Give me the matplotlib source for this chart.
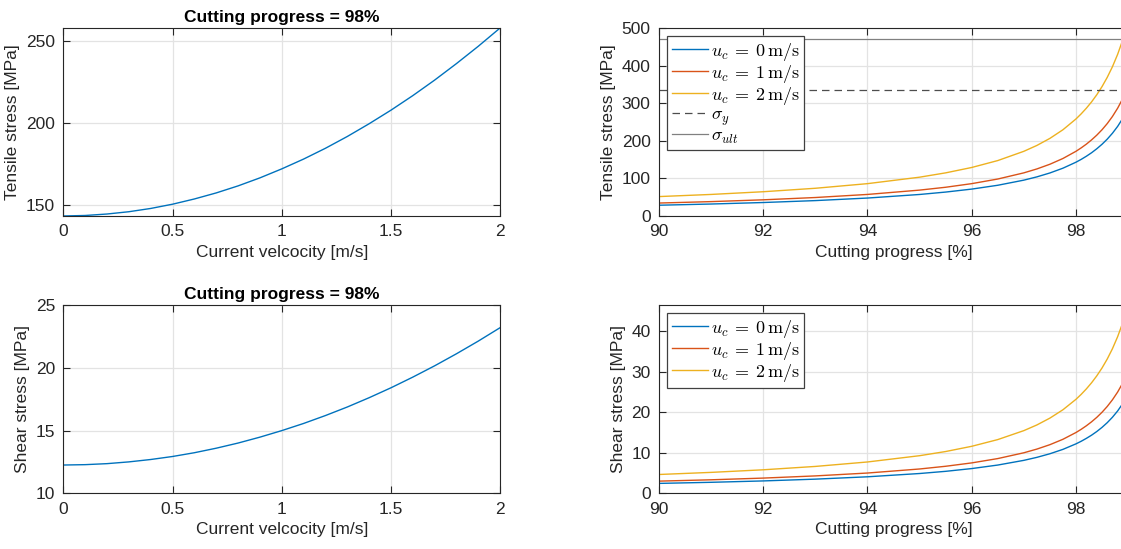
import matplotlib
matplotlib.use('Agg')
import matplotlib.pyplot as plt

# ---- data ----------------------------------------------------------------
# left column: stress vs current velocity at cutting progress = 98 %
velocity = [0.0, 0.1, 0.2, 0.3, 0.4, 0.5, 0.6, 0.7, 0.8, 0.9, 1.0,
            1.1, 1.2, 1.3, 1.4, 1.5, 1.6, 1.7, 1.8, 1.9, 2.0]
tensile_vs_u = [143.0, 143.3, 144.2, 145.6, 147.6, 150.2, 153.4, 157.1, 161.4, 166.3, 171.8,
                177.8, 184.4, 191.6, 199.4, 207.7, 216.6, 226.1, 236.2, 246.8, 258.0]
shear_vs_u = [12.25, 12.28, 12.36, 12.50, 12.69, 12.93, 13.23, 13.59, 14.00, 14.47, 14.99,
              15.56, 16.19, 16.87, 17.61, 18.40, 19.25, 20.15, 21.11, 22.12, 23.19]

# right column: stress vs cutting progress for three current velocities
progress = [90, 91, 92, 93, 94, 95, 95.5, 96, 96.5, 97, 97.25, 97.5, 97.75,
            98, 98.1, 98.2, 98.3, 98.4, 98.5, 98.6, 98.7, 98.8, 98.9, 99]
tensile_u0 = [28.6, 31.8, 35.8, 40.9, 47.7, 57.2, 63.6, 71.5, 81.7, 95.3, 104.0, 114.4, 127.1,
              143.0, 150.5, 158.9, 168.2, 178.8, 190.7, 204.3, 220.0, 238.3, 260.0, 286.0]
tensile_u1 = [34.4, 38.2, 43.0, 49.1, 57.3, 68.8, 76.4, 86.0, 98.3, 114.7, 125.1, 137.6, 152.9,
              172.0, 181.1, 191.1, 202.4, 215.0, 229.3, 245.7, 264.6, 286.7, 312.7, 344.0]
tensile_u2 = [51.6, 57.3, 64.5, 73.7, 86.0, 103.2, 114.7, 129.0, 147.4, 172.0, 187.6, 206.4, 229.3,
              258.0, 271.6, 286.7, 303.5, 322.5, 344.0, 368.6, 396.9, 430.0, 469.1, 516.0]
shear_u0 = [2.44, 2.71, 3.05, 3.49, 4.07, 4.88, 5.42, 6.10, 6.97, 8.13, 8.87, 9.76, 10.84,
            12.20, 12.84, 13.56, 14.35, 15.25, 16.27, 17.43, 18.77, 20.33, 22.18, 24.40]
shear_u1 = [3.00, 3.33, 3.75, 4.29, 5.00, 6.00, 6.67, 7.50, 8.57, 10.00, 10.91, 12.00, 13.33,
            15.00, 15.79, 16.67, 17.65, 18.75, 20.00, 21.43, 23.08, 25.00, 27.27, 30.00]
shear_u2 = [4.64, 5.16, 5.80, 6.63, 7.73, 9.28, 10.31, 11.60, 13.26, 15.47, 16.87, 18.56, 20.62,
            23.20, 24.42, 25.78, 27.29, 29.00, 30.93, 33.14, 35.69, 38.67, 42.18, 46.40]
sigma_y = 335
sigma_ult = 470

u_labels = [r'$u_c\:=\:0\,\mathrm{m/s}$', r'$u_c\:=\:1\,\mathrm{m/s}$', r'$u_c\:=\:2\,\mathrm{m/s}$']
colors = ['#0072BD', '#D95319', '#EDB120']

# ---- style (MATLAB look) --------------------------------------------------
plt.rcParams['font.family'] = ['Liberation Sans', 'DejaVu Sans']
plt.rcParams['mathtext.fontset'] = 'cm'
plt.rcParams['axes.edgecolor'] = '#262626'
plt.rcParams['xtick.color'] = '#262626'
plt.rcParams['ytick.color'] = '#262626'
plt.rcParams['axes.labelcolor'] = '#262626'


def style_axes(ax):
    ax.grid(True, color='#E3E3E3', linewidth=0.9)
    ax.set_axisbelow(True)
    ax.tick_params(direction='in', top=True, right=True, length=5, width=0.8,
                   labelsize=12.5, pad=6)
    for s in ax.spines.values():
        s.set_linewidth(0.8)


def add_legend(ax):
    leg = ax.legend(loc='upper left', fontsize=13, fancybox=False, framealpha=1,
                    edgecolor='#404040', borderaxespad=0.45, handlelength=2.0,
                    handletextpad=0.2, labelspacing=0.0, borderpad=0.25)
    leg.get_frame().set_linewidth(0.9)


fig = plt.figure(figsize=(11.21, 5.49), dpi=100)

ax1 = fig.add_axes([0.0565, 0.6066, 0.3896, 0.3424])
ax2 = fig.add_axes([0.5879, 0.6066, 0.4184, 0.3424])
ax3 = fig.add_axes([0.0565, 0.1015, 0.3896, 0.343])
ax4 = fig.add_axes([0.5879, 0.1015, 0.4184, 0.343])

# top left
ax1.plot(velocity, tensile_vs_u, color=colors[0], linewidth=1)
ax1.set_xlim(0, 2)
ax1.set_ylim(143, 258)
ax1.set_yticks([150, 200, 250])
ax1.set_xticks([0, 0.5, 1, 1.5, 2])
ax1.set_xticklabels(['0', '0.5', '1', '1.5', '2'])
ax1.set_xlabel('Current velcocity [m/s]', fontsize=12.5)
ax1.set_ylabel('Tensile stress [MPa]', fontsize=12.5)
ax1.set_title('Cutting progress = 98%', fontsize=12.5, fontweight='bold', pad=4)
style_axes(ax1)

# bottom left
ax3.plot(velocity, shear_vs_u, color=colors[0], linewidth=1)
ax3.set_xlim(0, 2)
ax3.set_ylim(10, 25)
ax3.set_yticks([10, 15, 20, 25])
ax3.set_xticks([0, 0.5, 1, 1.5, 2])
ax3.set_xticklabels(['0', '0.5', '1', '1.5', '2'])
ax3.set_xlabel('Current velcocity [m/s]', fontsize=12.5)
ax3.set_ylabel('Shear stress [MPa]', fontsize=12.5)
ax3.set_title('Cutting progress = 98%', fontsize=12.5, fontweight='bold', pad=4)
style_axes(ax3)

# top right
for y, c, lab in zip([tensile_u0, tensile_u1, tensile_u2], colors, u_labels):
    ax2.plot(progress, y, color=c, linewidth=1, label=lab)
ax2.axhline(sigma_y, color='#4D4D4D', linestyle=(0, (6, 4)), linewidth=0.9, label=r'$\sigma_y$')
ax2.axhline(sigma_ult, color='#808080', linewidth=0.9, label=r'$\sigma_{ult}$')
ax2.set_xlim(90, 99)
ax2.set_ylim(0, 500)
ax2.set_xticks([90, 92, 94, 96, 98])
ax2.set_xlabel('Cutting progress [%]', fontsize=12.5)
ax2.set_ylabel('Tensile stress [MPa]', fontsize=12.5)
style_axes(ax2)
add_legend(ax2)

# bottom right
for y, c, lab in zip([shear_u0, shear_u1, shear_u2], colors, u_labels):
    ax4.plot(progress, y, color=c, linewidth=1, label=lab)
ax4.set_xlim(90, 99)
ax4.set_ylim(0, 46.5)
ax4.set_xticks([90, 92, 94, 96, 98])
ax4.set_yticks([0, 10, 20, 30, 40])
ax4.set_xlabel('Cutting progress [%]', fontsize=12.5)
ax4.set_ylabel('Shear stress [MPa]', fontsize=12.5)
style_axes(ax4)
add_legend(ax4)

fig.savefig('out.png', dpi=100)
